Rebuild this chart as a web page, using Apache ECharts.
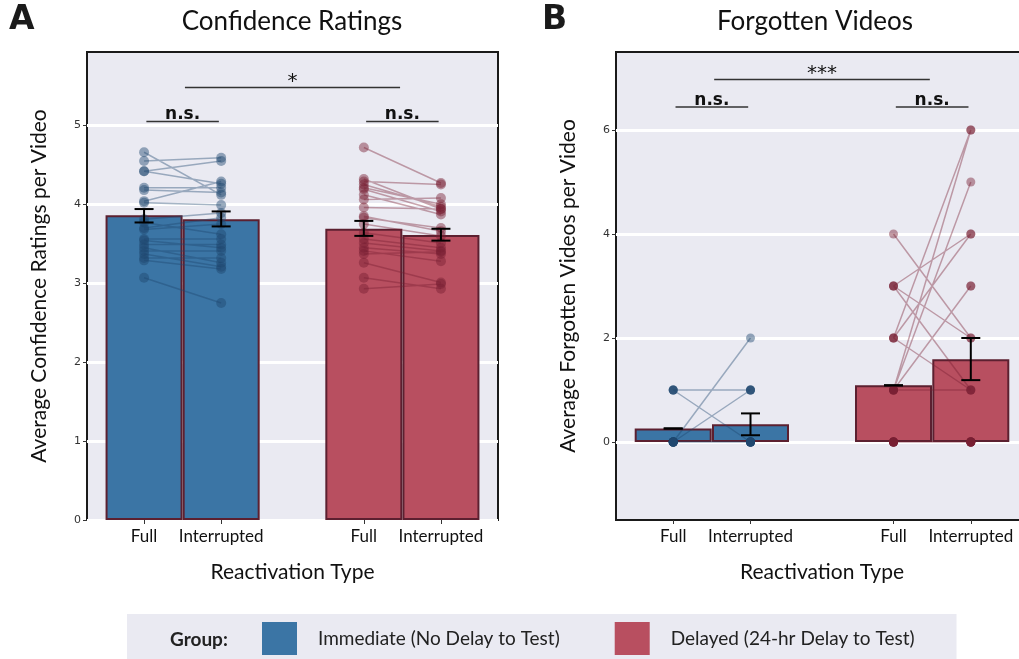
<!DOCTYPE html>
<html>
<head>
<meta charset="utf-8">
<script src="https://cdn.jsdelivr.net/npm/echarts@6/dist/echarts.min.js"></script>
<style>
  html, body { margin: 0; padding: 0; background: #fff; }
  #chart { width: 1019px; height: 659px; }
</style>
</head>
<body>
<div id="chart"></div>
<script>
// x positions of the four bars (bar width = 1 unit) and their labels
const xPos = [0, 1, 2.85, 3.85]
const xLabels = ['Full', 'Interrupted', 'Full', 'Interrupted']
const groups = ['Immediate (No Delay to Test)', 'Delayed (24-hr Delay to Test)']

// panel A - confidence ratings
const confMean = [3.86, 3.81, 3.69, 3.61]
const confErrLow = [3.77, 3.72, 3.60, 3.54]
const confErrHigh = [3.94, 3.91, 3.79, 3.69]
const confImmFull = [4.66, 4.55, 4.42, 4.42, 4.21, 4.18, 4.04, 4.02, 3.81, 3.77, 3.70, 3.68, 3.56, 3.54, 3.49, 3.45, 3.41, 3.37, 3.32, 3.29, 3.07]
const confImmInt = [4.12, 4.59, 4.55, 4.26, 4.21, 4.15, 4.29, 3.99, 3.89, 3.62, 3.83, 3.75, 3.56, 3.45, 3.49, 3.26, 3.41, 3.21, 3.32, 3.18, 2.75]
const confDelFull = [4.72, 4.32, 4.29, 4.25, 4.21, 4.19, 4.12, 4.06, 3.96, 3.85, 3.83, 3.75, 3.64, 3.56, 3.51, 3.45, 3.41, 3.37, 3.26, 3.07, 2.93]
const confDelInt = [4.27, 3.94, 4.25, 3.97, 4.00, 3.91, 3.87, 4.08, 3.94, 3.66, 3.70, 3.60, 3.51, 3.45, 3.41, 3.37, 3.28, 3.40, 3.01, 2.93, 2.99]
const confTicks = [0, 1, 2, 3, 4, 5]
// [x0, x1, y, label]
const confSig = [[0.03, 0.97, 5.05, 'n.s.'], [2.88, 3.82, 5.05, 'n.s.'], [0.53, 3.32, 5.48, '*']]

// panel B - forgotten videos
const forgMean = [0.26, 0.34, 1.09, 1.59]
const forgErrLow = [0.26, 0.13, 1.09, 1.19]
const forgErrHigh = [0.26, 0.55, 1.09, 2.0]
const forgImmFull = [1, 1, 1, 1, 0, 0, 0, 0, 0, 0, 0, 0, 0, 0, 0, 0]
const forgImmInt = [1, 1, 0, 0, 1, 1, 2, 0, 0, 0, 0, 0, 0, 0, 0, 0]
const forgDelFull = [4, 3, 3, 3, 2, 2, 2, 1, 1, 1, 1, 1, 0, 0, 0, 0, 0, 0, 0, 0, 0]
const forgDelInt = [2, 4, 2, 1, 6, 4, 1, 6, 5, 3, 3, 1, 0, 0, 0, 0, 0, 0, 0, 0, 0]
const forgTicks = [0, 2, 4, 6]
const forgSig = [[0.03, 0.97, 6.44, 'n.s.'], [2.88, 3.82, 6.44, 'n.s.'], [0.53, 3.32, 6.97, '***']]

const BLUE = '#3b75a5'
const RED = '#b84f60'
const EDGE = '#5c2030'
const BLUE_PT = 'rgb(30,70,110)'
const RED_PT = 'rgb(120,30,50)'
const FONT = 'Lato'

const chart = echarts.init(document.getElementById('chart'), null, { renderer: 'canvas' })

function xAxis(idx) {
  return {
    type: 'value', gridIndex: idx, min: -0.74, max: 4.59,
    name: 'Reactivation Type', nameLocation: 'middle', nameGap: 42,
    nameTextStyle: { fontFamily: FONT, fontSize: 21, color: '#111' },
    axisLine: { show: false, onZero: false },
    axisTick: { show: true, length: 4, customValues: xPos, lineStyle: { color: '#333' } },
    axisLabel: {
      customValues: xPos, margin: 8, fontFamily: FONT, fontSize: 17, color: '#111',
      formatter: v => xLabels[xPos.findIndex(p => Math.abs(p - v) < 1e-6)] || ''
    },
    splitLine: { show: false }
  }
}

function yAxis(idx, min, max, ticks, name) {
  return {
    type: 'value', gridIndex: idx, min: min, max: max,
    name: name, nameLocation: 'middle', nameGap: 37,
    nameTextStyle: { fontFamily: FONT, fontSize: 21, color: '#111' },
    axisLine: { show: false, onZero: false },
    axisTick: { show: true, length: 4, customValues: ticks, lineStyle: { color: '#333' } },
    axisLabel: { customValues: ticks, margin: 6, fontFamily: 'DejaVu Sans', fontSize: 11, color: '#333' },
    splitLine: { show: true, lineStyle: { color: '#fff', width: 3 } }
  }
}

function bars(idx, name, color, xs, ys) {
  return {
    type: 'bar', name: name, xAxisIndex: idx, yAxisIndex: idx,
    barWidth: 77, barGap: '-100%', z: 2,
    itemStyle: { color: color, borderColor: EDGE, borderWidth: 2 },
    data: xs.map((x, i) => [x, ys[i]])
  }
}

function subjects(idx, color, full, inter, x0, x1, size) {
  const d = []
  full.forEach((v, i) => { d.push([x0, v], [x1, inter[i]], ['-', '-']) })
  return {
    type: 'line', xAxisIndex: idx, yAxisIndex: idx, z: 3, silent: true,
    symbol: 'circle', symbolSize: size, showSymbol: true, connectNulls: false,
    lineStyle: { color: color, width: 1.5, opacity: 0.4 },
    itemStyle: { color: color, opacity: 0.45 },
    emphasis: { disabled: true },
    data: d
  }
}

function errors(idx, lo, hi) {
  return {
    type: 'custom', xAxisIndex: idx, yAxisIndex: idx, z: 5, silent: true,
    data: xPos.map((x, i) => [x, lo[i], hi[i]]),
    encode: { x: 0, y: [1, 2] },
    renderItem: (params, api) => {
      const a = api.coord([api.value(0), api.value(1)])
      const b = api.coord([api.value(0), api.value(2)])
      const st = { stroke: '#000', lineWidth: 2 }
      const cap = 9.5
      return {
        type: 'group', children: [
          { type: 'line', shape: { x1: a[0], y1: a[1], x2: b[0], y2: b[1] }, style: st },
          { type: 'line', shape: { x1: a[0] - cap, y1: a[1], x2: a[0] + cap, y2: a[1] }, style: st },
          { type: 'line', shape: { x1: b[0] - cap, y1: b[1], x2: b[0] + cap, y2: b[1] }, style: st }
        ]
      }
    }
  }
}

function sig(idx, rows) {
  return {
    type: 'custom', xAxisIndex: idx, yAxisIndex: idx, z: 6, silent: true,
    data: rows.map(r => [r[0], r[1], r[2]]),
    encode: { x: [0, 1], y: 2 },
    renderItem: (params, api) => {
      const label = rows[params.dataIndex][3]
      const a = api.coord([api.value(0), api.value(2)])
      const b = api.coord([api.value(1), api.value(2)])
      const star = label.indexOf('*') >= 0
      return {
        type: 'group', children: [
          { type: 'line', shape: { x1: a[0], y1: a[1], x2: b[0], y2: b[1] }, style: { stroke: '#333', lineWidth: 1.5 } },
          {
            type: 'text', x: (a[0] + b[0]) / 2, y: a[1] + (star ? 4 : 2),
            style: {
              text: label, align: 'center', verticalAlign: 'bottom', fill: '#111',
              fontFamily: 'DejaVu Sans', fontWeight: star ? 'normal' : 'bold', fontSize: star ? 20 : 17
            }
          }
        ]
      }
    }
  }
}

const option = {
  animation: false,
  backgroundColor: '#fff',
  grid: [
    { left: 87, width: 411, top: 52, height: 468, outerBoundsMode: 'none', containLabel: false, show: true, backgroundColor: '#eaeaf2', borderColor: '#1a1a1a', borderWidth: 2 },
    { left: 616, width: 412, top: 52, height: 468, outerBoundsMode: 'none', containLabel: false, show: true, backgroundColor: '#eaeaf2', borderColor: '#1a1a1a', borderWidth: 2 }
  ],
  xAxis: [xAxis(0), xAxis(1)],
  yAxis: [
    yAxis(0, 0, 5.93, confTicks, 'Average Confidence Ratings per Video'),
    yAxis(1, -1.5, 7.5, forgTicks, 'Average Forgotten Videos per Video')
  ],
  legend: {
    left: 127, top: 614, data: groups, icon: 'rect', itemWidth: 35, itemHeight: 33, itemGap: 55,
    backgroundColor: '#eaeaf2', padding: [8, 42, 12, 135], selectedMode: false,
    itemStyle: { borderWidth: 0 },
    textStyle: { fontFamily: FONT, fontSize: 19, color: '#222', padding: [0, 0, 0, 16] }
  },
  graphic: [
    { type: 'text', x: 9, y: 20, style: { text: 'A', fontFamily: 'DejaVu Sans', fontWeight: 'bold', fontSize: 33, fill: '#1a1a1a', verticalAlign: 'middle' } },
    { type: 'text', x: 542, y: 20, style: { text: 'B', fontFamily: 'DejaVu Sans', fontWeight: 'bold', fontSize: 33, fill: '#1a1a1a', verticalAlign: 'middle' } },
    { type: 'text', x: 292, y: 22, style: { text: 'Confidence Ratings', fontFamily: FONT, fontSize: 26, fill: '#111', align: 'center', verticalAlign: 'middle' } },
    { type: 'text', x: 815, y: 22, style: { text: 'Forgotten Videos', fontFamily: FONT, fontSize: 26, fill: '#111', align: 'center', verticalAlign: 'middle' } },
    { type: 'text', x: 170, y: 640, z: 100, style: { text: 'Group:', fontFamily: FONT, fontWeight: 'bold', fontSize: 19, fill: '#222', verticalAlign: 'middle' } }
  ],
  series: [
    bars(0, groups[0], BLUE, xPos.slice(0, 2), confMean.slice(0, 2)),
    bars(0, groups[1], RED, xPos.slice(2), confMean.slice(2)),
    bars(1, groups[0], BLUE, xPos.slice(0, 2), forgMean.slice(0, 2)),
    bars(1, groups[1], RED, xPos.slice(2), forgMean.slice(2)),
    subjects(0, BLUE_PT, confImmFull, confImmInt, xPos[0], xPos[1], 10),
    subjects(0, RED_PT, confDelFull, confDelInt, xPos[2], xPos[3], 10),
    subjects(1, BLUE_PT, forgImmFull, forgImmInt, xPos[0], xPos[1], 9),
    subjects(1, RED_PT, forgDelFull, forgDelInt, xPos[2], xPos[3], 9),
    errors(0, confErrLow, confErrHigh),
    errors(1, forgErrLow, forgErrHigh),
    sig(0, confSig),
    sig(1, forgSig)
  ]
}

chart.setOption(option)
</script>
</body>
</html>
